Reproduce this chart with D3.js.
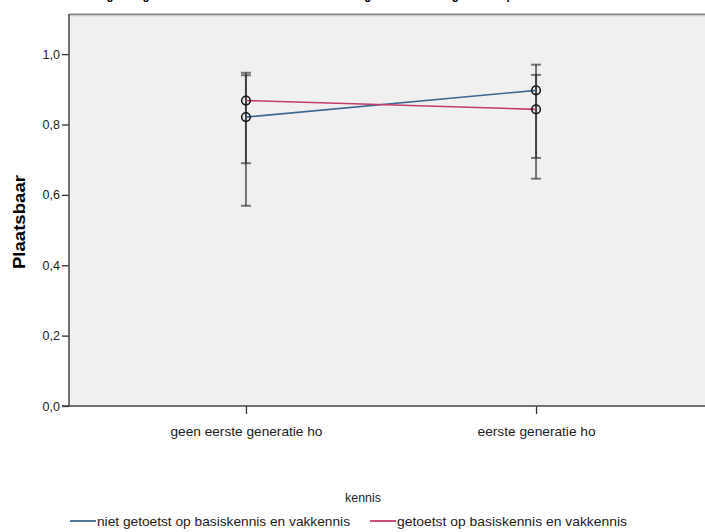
<!DOCTYPE html>
<html><head><meta charset="utf-8">
<script src="https://cdn.jsdelivr.net/npm/d3@7/dist/d3.min.js"></script>
<style>body{margin:0;background:#fff;}svg{display:block;font-family:"Liberation Sans",Arial,sans-serif;}</style>
</head><body><div id="chart"></div>
<script>
const categories = ["geen eerste generatie ho", "eerste generatie ho"];
const seriesNames = ["niet getoetst op basiskennis en vakkennis", "getoetst op basiskennis en vakkennis"];
const seriesColors = ["#3d6890", "#c43a6a"];
const meansNiet = [0.821, 0.897];
const meansGetoetst = [0.868, 0.843];
const lowNiet = [0.569, 0.705];
const highNiet = [0.947, 0.970];
const lowGetoetst = [0.690, 0.646];
const highGetoetst = [0.940, 0.941];
const yTicks = [0, 0.2, 0.4, 0.6, 0.8, 1.0];
const yLabel = "Plaatsbaar";
const legendTitle = "kennis";
const title = "Geschatte marginale gemiddelden van Plaatsbaar naar eerste generatie ho en getoetst op basiskennis en vakkennis";

const W = 705, H = 532;
const svg = d3.select("#chart").append("svg").attr("width", W).attr("height", H);

const plot = {left: 69, right: 713, top: 14, bottom: 406};
const y = d3.scaleLinear().domain([0, 1.114]).range([plot.bottom, plot.top]);
const x = d3.scalePoint().domain(categories).range([plot.left, plot.right]).padding(0.61);

// title (cut off at top, as in the reference)
svg.append("text").attr("x", 342).attr("y", -1).attr("text-anchor", "middle")
  .attr("font-size", 15).attr("font-weight", "bold").attr("fill", "#000")
  .attr("textLength", 630).attr("lengthAdjust", "spacingAndGlyphs").text(title);

// plot background
svg.append("rect").attr("x", plot.left).attr("y", plot.top)
  .attr("width", plot.right - plot.left).attr("height", plot.bottom - plot.top)
  .attr("fill", "#f0f0f0");
svg.append("line").attr("x1", plot.left).attr("x2", plot.right).attr("y1", plot.top + 0.5).attr("y2", plot.top + 0.5)
  .attr("stroke", "#888").attr("stroke-width", 2);
svg.append("line").attr("x1", plot.left).attr("x2", plot.right).attr("y1", plot.top + 2).attr("y2", plot.top + 2)
  .attr("stroke", "#d8d8d8").attr("stroke-width", 1);

// axes
const yAxis = d3.axisLeft(y).tickValues(yTicks).tickSize(7).tickPadding(2)
  .tickFormat(d => d3.format(".1f")(d).replace(".", ","));
const gy = svg.append("g").attr("transform", `translate(${plot.left},0)`).call(yAxis);
gy.select(".domain").remove();
gy.selectAll("line").attr("stroke", "#333").attr("stroke-width", 1.3);
gy.selectAll("text").attr("font-size", 12.5).attr("fill", "#222").attr("font-family", "Liberation Sans, Arial, sans-serif");
svg.append("line").attr("x1", plot.left).attr("x2", plot.left).attr("y1", plot.top).attr("y2", plot.bottom)
  .attr("stroke", "#444").attr("stroke-width", 1.5);

const xAxis = d3.axisBottom(x).tickSize(8).tickPadding(13);
const gx = svg.append("g").attr("transform", `translate(0,${plot.bottom})`).call(xAxis);
gx.select(".domain").remove();
gx.selectAll("line").attr("stroke", "#333").attr("stroke-width", 1.3);
const xLabelWidths = [152, 118];
gx.selectAll("text").attr("font-size", 13).attr("fill", "#222").attr("font-family", "Liberation Sans, Arial, sans-serif")
  .attr("textLength", (d, i) => xLabelWidths[i]).attr("lengthAdjust", "spacingAndGlyphs");
svg.append("line").attr("x1", plot.left - 7).attr("x2", plot.right).attr("y1", plot.bottom).attr("y2", plot.bottom)
  .attr("stroke", "#444").attr("stroke-width", 1.5);

// y label
svg.append("text").attr("transform", `translate(25,${(y(0.4)+y(0.6))/2 - 8}) rotate(-90)`)
  .attr("text-anchor", "middle").attr("font-size", 16).attr("font-weight", "bold")
  .attr("textLength", 94).attr("lengthAdjust", "spacingAndGlyphs").text(yLabel);

const series = [
  {name: seriesNames[0], color: seriesColors[0], means: meansNiet, low: lowNiet, high: highNiet},
  {name: seriesNames[1], color: seriesColors[1], means: meansGetoetst, low: lowGetoetst, high: highGetoetst}
];

// error bars
series.forEach(s => {
  categories.forEach((c, i) => {
    const g = svg.append("g").attr("stroke", "#222").attr("stroke-opacity", 0.6).attr("stroke-width", 2);
    g.append("line").attr("x1", x(c)).attr("x2", x(c)).attr("y1", y(s.low[i])).attr("y2", y(s.high[i]));
    g.append("line").attr("x1", x(c) - 5).attr("x2", x(c) + 5).attr("y1", y(s.low[i])).attr("y2", y(s.low[i]));
    g.append("line").attr("x1", x(c) - 5).attr("x2", x(c) + 5).attr("y1", y(s.high[i])).attr("y2", y(s.high[i]));
  });
});

// lines
const line = d3.line().x((d, i) => x(categories[i])).y(d => y(d));
series.forEach(s => {
  svg.append("path").datum(s.means).attr("d", line).attr("fill", "none")
    .attr("stroke", s.color).attr("stroke-width", 1.6);
});
// markers
series.forEach(s => {
  svg.selectAll(null).data(s.means).enter().append("circle")
    .attr("cx", (d, i) => x(categories[i])).attr("cy", d => y(d)).attr("r", 4.3)
    .attr("fill", "none").attr("stroke", "#1a1a1a").attr("stroke-width", 1.6);
});

// legend
svg.append("text").attr("x", 363).attr("y", 502).attr("text-anchor", "middle")
  .attr("font-size", 13.5).attr("fill", "#222")
  .attr("textLength", 36).attr("lengthAdjust", "spacingAndGlyphs").text(legendTitle);
const legX = [70, 370];
const legW = [253, 230];
series.forEach((s, i) => {
  svg.append("line").attr("x1", legX[i]).attr("x2", legX[i] + 26).attr("y1", 521).attr("y2", 521)
    .attr("stroke", s.color).attr("stroke-width", 1.8);
  svg.append("text").attr("x", legX[i] + 27).attr("y", 526).attr("font-size", 13)
    .attr("fill", "#222").attr("textLength", legW[i]).attr("lengthAdjust", "spacingAndGlyphs").text(s.name);
});
</script></body></html>
